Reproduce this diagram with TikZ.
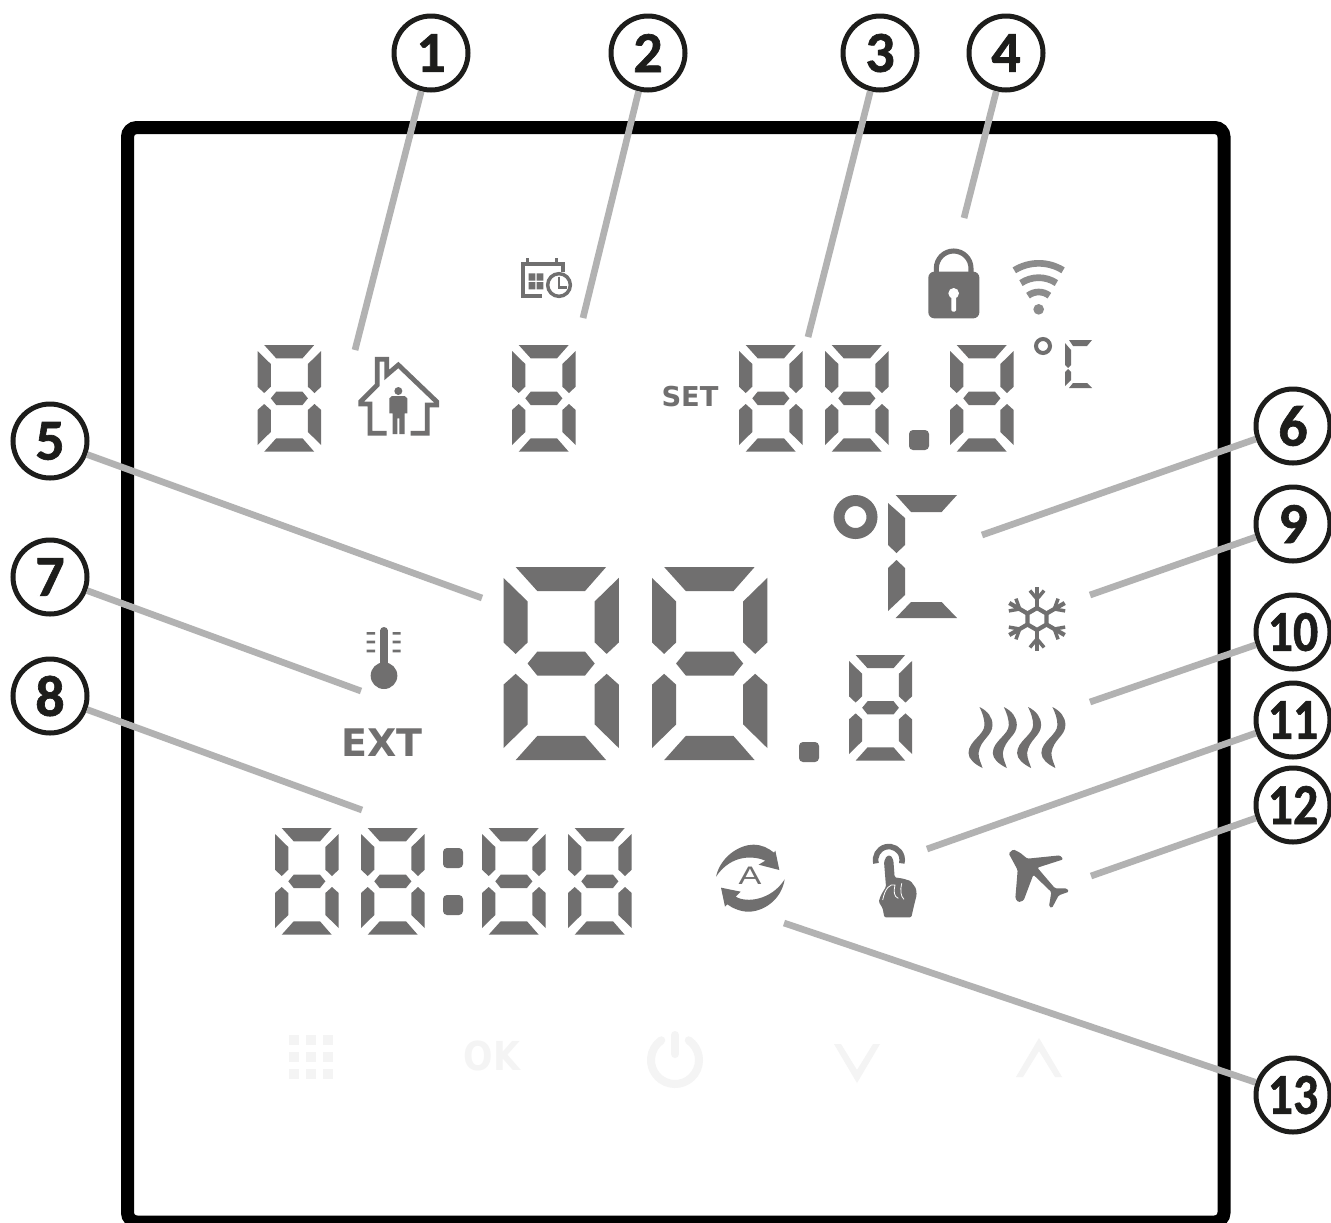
\documentclass[tikz,border=0pt]{standalone}
\usepackage{fontspec}
\setmainfont{DejaVu Sans}
\newfontfamily\numfont{Carlito}[BoldFeatures={FakeBold=1.1}]
\definecolor{segcol}{HTML}{706F6F}
\definecolor{wificol}{HTML}{8C8C8C}
\definecolor{linecol}{HTML}{B2B2B2}
\definecolor{inkcol}{HTML}{1D1D1B}
\definecolor{faintcol}{HTML}{F4F4F4}
\tikzset{
  seg/.style={fill=segcol,draw=none},
  faint/.style={fill=faintcol,draw=none},
  zm/.style 2 args={shift={(#1,#2)},x=.25pt,y=-.25pt},
  badge/.style={circle,draw=inkcol,line width=3.75pt,minimum size=55.5pt,inner sep=0pt,fill=white,
     text=inkcol,font=\numfont\bfseries\fontsize{43.5}{44}\selectfont},
  leader/.style={draw=linecol,line width=5pt},
}
\newcommand{\sevenseg}[3]{%
  \begin{scope}[shift={(#1,#2)},scale=#3]
    \fill[seg] (6.7,0)--(56.7,0)--(45,13.3)--(18.7,13.3)--cycle;
    \fill[seg] (0,6)--(13.3,19)--(13.3,41.7)--(6.7,48)--(0,41.7)--cycle;
    \fill[seg] (63.7,6)--(50.4,19)--(50.4,41.7)--(57,48)--(63.7,41.7)--cycle;
    \fill[seg] (13.3,53.3)--(18.7,46.7)--(45,46.7)--(50.4,53.3)--(45,60)--(18.7,60)--cycle;
    \fill[seg] (6.7,59)--(13.3,65)--(13.3,87)--(0,100)--(0,65)--cycle;
    \fill[seg] (57,59)--(63.7,65)--(63.7,100)--(50.4,87)--(50.4,65)--cycle;
    \fill[seg] (18.7,93.3)--(45,93.3)--(56.7,106.7)--(6.7,106.7)--cycle;
  \end{scope}}
\newcommand{\lcddot}[2]{\fill[seg,rounded corners=3pt] (#1,#2) rectangle ++(20,20);}
\newcommand{\heatwave}[1]{%
  \fill[seg,shift={(#1,707)}] (0,0) .. controls (8,4) and (13,10) .. (13,18)
    .. controls (13,29) and (1,32) .. (-1,46) .. controls (-1,52) and (2,57) .. (3,61)
    .. controls (-5,57) and (-11,52) .. (-11,46) .. controls (-11,34) and (5,28) .. (5,18)
    .. controls (5,12) and (3,6) .. (0,0) -- cycle;}
\begin{document}
\begin{tikzpicture}[x=.75pt,y=-.75pt]
\useasboundingbox (0,0) rectangle (1331,1222);
\clip (0,0) rectangle (1331,1222);
\fill[white] (0,0) rectangle (1331,1222);
% frame
\draw[black,line width=9.75pt,rounded corners=7pt] (127.5,127.5) rectangle (1224,1222);

% digits
\sevenseg{257.5}{345}{1}
\sevenseg{512}{345}{1}
\sevenseg{739}{345}{1}
\sevenseg{825}{345}{1}
\lcddot{909}{430}
\sevenseg{950}{345}{1}
\sevenseg{503.5}{567}{1.81}
\sevenseg{652}{567}{1.81}
\lcddot{799}{742}
\sevenseg{849}{655}{.99}
\sevenseg{275}{828}{1}
\sevenseg{361}{828}{1}
\lcddot{443}{848}
\lcddot{443}{895}
\sevenseg{482}{828}{1}
\sevenseg{568}{828}{1}

% small degree C
\draw[segcol,line width=3pt] (1043,346) circle [radius=7];
\fill[seg] (1069,340)--(1092,340)--(1087,346)--(1073,346)--cycle;
\fill[seg] (1065,343)--(1071,350)--(1071,365)--(1068,368)--(1065,365)--cycle;
\fill[seg] (1068,369)--(1071,372)--(1071,380)--(1065,386)--(1065,372)--cycle;
\fill[seg] (1073,383)--(1087,383)--(1092,388)--(1069,388)--cycle;
% large degree C
\draw[segcol,line width=8.25pt] (855.5,517) circle [radius=16.5];
\fill[seg] (895.7,495)--(957,495)--(941.6,512)--(911,512)--cycle;
\fill[seg] (888,503)--(905,518)--(905,545)--(896.5,553)--(888,545)--cycle;
\fill[seg] (896.5,560)--(905,568)--(905,595)--(888,611)--(888,568)--cycle;
\fill[seg] (911,602)--(941.6,602)--(957,618)--(895.7,618)--cycle;

% house
\begin{scope}[zm={240}{230}]
  \draw[segcol,line width=3.6pt,line join=miter] (440,610)--(390,610)--(390,522)--(362,522)--(362,515)--(412,465)--(412,388)--(440,388)--(440,435)--(475,405)--(590,515)--(590,525)--(562,525)--(562,610)--(512,610);
  \fill[seg] (475,483) circle [radius=12];
  \fill[seg] (448,505)--(456,498)--(494,498)--(502,505)--(502,550)--(494,550)--(494,612)--(478,612)--(478,565)--(472,565)--(472,612)--(458,612)--(458,550)--(448,550)--cycle;
  % calendar
  \draw[segcol,line width=3pt] (905,198)--(848,198)--(848,103)--(968,103)--(968,125);
  \draw[segcol,line width=2pt] (862,85)--(862,108) (950,85)--(950,108);
  \fill[seg] (866,130) rectangle (886,152) (890,130) rectangle (910,152) (866,156) rectangle (886,178) (890,156) rectangle (910,178);
  \draw[segcol,line width=2.6pt,fill=white] (957,165) circle [radius=34];
  \draw[segcol,line width=2.2pt] (957,140)--(957,172)--(980,172);
\end{scope}

% lock and wifi
\begin{scope}[zm={650}{230}]
  \draw[segcol,line width=3.8pt] (859,128)--(859,115) arc[start angle=180,end angle=360,radius=52]--(963,128);
  \fill[seg,rounded corners=4.5pt] (835,125) rectangle (988,265);
  \fill[white] (911,190) circle [radius=16];
  \fill[white,rounded corners=1pt] (904,190) rectangle (918,245);
  \draw[wificol,line width=5pt] (1166,238) ++(-122:138) arc[start angle=-122,end angle=-58,radius=138];
  \draw[wificol,line width=5pt] (1166,238) ++(-124:95) arc[start angle=-124,end angle=-56,radius=95];
  \draw[wificol,line width=5pt] (1166,238) ++(-128:52) arc[start angle=-128,end angle=-52,radius=52];
  \fill[wificol] (1166,238) circle [radius=16];
\end{scope}

% snowflake
\draw[segcol,line width=3.2pt] (1037,608)--(1046.5,613.5)--(1046.5,624.5)--(1037,630)--(1027.5,624.5)--(1027.5,613.5)--cycle;
\foreach \a in {30,90,...,330}{
  \draw[segcol,line width=3.2pt] (1037,619) ++(\a:11) -- ++(\a:21);
  \draw[segcol,line width=2.6pt] (1037,619) ++(\a:20) -- ++(\a+40:11);
  \draw[segcol,line width=2.6pt] (1037,619) ++(\a:20) -- ++(\a-40:11);
}

% heat
\heatwave{979.5}
\heatwave{1003.8}
\heatwave{1028.1}
\heatwave{1052.4}

% thermometer
\begin{scope}[zm={260}{620}]
  \draw[segcol,line width=5.5pt,line cap=round] (372,32)--(372,140);
  \fill[seg] (372,167) circle [radius=40];
  \fill[seg] (320,36) rectangle (345,44) (320,62) rectangle (345,70) (320,89) rectangle (345,97);
  \fill[seg] (398,36) rectangle (422,44) (398,62) rectangle (422,70) (398,89) rectangle (422,97);
\end{scope}

% cycle, hand, plane
\begin{scope}[zm={690}{820}]
  \fill[seg] (78,170) .. controls (92,108) and (150,74) .. (190,74) .. controls (215,74) and (235,84) .. (252,98) -- (256,92) -- (268,150) -- (206,134) -- (226,122) .. controls (195,108) and (125,100) .. (78,170) -- cycle;
  \fill[seg] (284,178) .. controls (274,240) and (220,275) .. (175,275) .. controls (150,275) and (125,263) .. (112,253) -- (105,260) -- (93,203) -- (152,215) -- (137,230) .. controls (170,250) and (245,240) .. (284,178) -- cycle;
  \draw[segcol,line width=4.2pt] (558,130) arc[start angle=165,end angle=375,radius=40];
  \fill[seg,rounded corners=1pt] (582,125)--(590,108)--(602,106)--(610,120)--(614,172)--(640,176)--(662,183)--(678,205)--(680,225)--(670,265)--(664,292)--(583,292)--(578,265)--(566,245)--(573,225)--(588,200)--cycle;
  \draw[white,line width=.6pt] (578,240) .. controls (585,205) and (600,190) .. (615,195) .. controls (610,215) and (612,230) .. (625,235);
  \draw[white,line width=.6pt] (635,190) .. controls (630,210) and (632,230) .. (642,238);
  \fill[seg,rounded corners=1pt] (956,100)--(970,88)--(990,98)--(1012,116)--(1110,106)--(1120,118)--(1042,143)--(1095,205)--(1130,205)--(1137,215)--(1106,226)--(1086,264)--(1077,259)--(1084,216)--(1030,164)--(1001,241)--(985,247)--(976,235)--(983,150)--cycle;
\end{scope}

% texts
\node[text=segcol,font=\bfseries\fontsize{20.5}{22}\selectfont,inner sep=0pt] (settext) at (690,397) {SET};
\node[text=segcol,font=\bfseries\fontsize{28.5}{31}\selectfont,inner sep=0pt] (exttext) at (382,743) {EXT};
\node[text=segcol,font=\fontspec{Liberation Sans}\fontsize{19}{20}\selectfont,inner sep=0pt,xscale=1.35] (autotext) at (750,876) {A};

% faint buttons
\foreach \i in {0,1,2}\foreach \j in {0,1,2}{
  \fill[faint] ({289+17*\i},{1035+17*\j}) rectangle ++(10,10);
}
\node[text=faintcol,font=\bfseries\fontsize{26}{28}\selectfont,inner sep=0pt,yscale=1.15] (oktext) at (492,1056) {OK};
\draw[faintcol,line width=6pt,line cap=round] (675,1060) ++(-55:24) arc[start angle=-55,end angle=235,radius=24];
\draw[faintcol,line width=6pt,line cap=round] (675,1035)--(675,1054);
\fill[faint] (834,1044)--(857,1083)--(880,1044)--(873,1044)--(857,1070)--(841,1044)--cycle;
\fill[faint] (1016,1077)--(1039,1038)--(1062,1077)--(1055,1077)--(1039,1051)--(1023,1077)--cycle;

% leader ends
\coordinate (t1) at (355,350);
\coordinate (t2) at (583,318);
\coordinate (t3) at (808,337);
\coordinate (t4) at (964,218);
\coordinate (t5) at (482,598);
\coordinate (t6) at (982,535);
\coordinate (t7) at (361,691);
\coordinate (t8) at (362,810);
\coordinate (t9) at (1090,595);
\coordinate (t10) at (1090,702);
\coordinate (t11) at (927,849);
\coordinate (t12) at (1091,876);
\coordinate (t13) at (784,923);

% badges
\node[badge] (n1) at (431,53) {1};
\node[badge] (n2) at (648,53) {2};
\node[badge] (n3) at (880,53) {3};
\node[badge] (n4) at (1006,53) {4};
\node[badge] (n5) at (50,441) {5};
\node[badge] (n6) at (1293,426) {6};
\node[badge] (n7) at (50,577) {7};
\node[badge] (n8) at (50,696) {8};
\node[badge] (n9) at (1293,524) {9};
\node[badge] (n10) at (1293,632) {\scalebox{.86}[1]{10}};
\node[badge] (n11) at (1293,720) {\scalebox{.86}[1]{11}};
\node[badge] (n12) at (1293,805) {\scalebox{.86}[1]{12}};
\node[badge] (n13) at (1293,1095) {\scalebox{.86}[1]{13}};

\foreach \k in {1,...,13}{\draw[leader] (n\k) -- (t\k);}
\end{tikzpicture}
\end{document}
